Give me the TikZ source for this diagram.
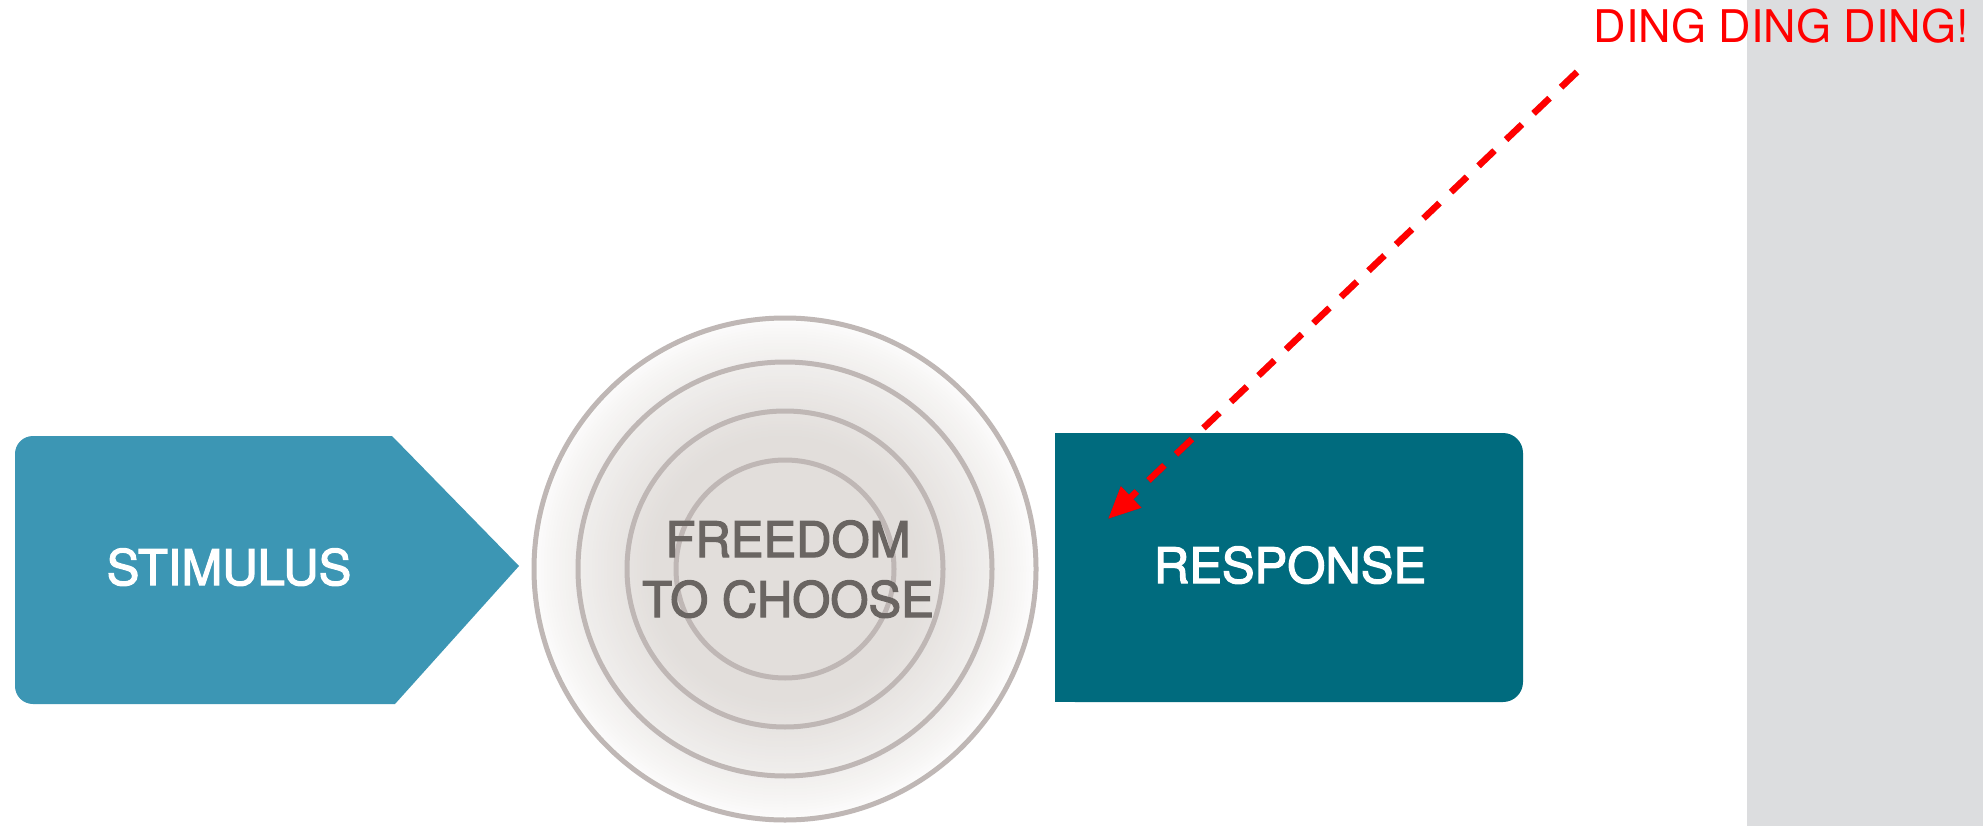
\documentclass[tikz,border=0pt]{standalone}
\usepackage{fontspec}
\setmainfont{TeX Gyre Heros}
\newfontfamily\labelfont{TeX Gyre Heros}[FakeBold=2.5]
\usetikzlibrary{arrows.meta}
\definecolor{stimcol}{HTML}{3C96B4}
\definecolor{respcol}{HTML}{006B7E}
\definecolor{panelcol}{HTML}{DCDDDF}
\definecolor{ringcol}{HTML}{BFB7B5}
\definecolor{ringfill}{HTML}{E2DEDB}
\definecolor{freecol}{HTML}{6A6562}
\tikzset{
  ring/.style={draw=ringcol, line width=5pt},
  biglabel/.style={font=\labelfont\fontsize{49}{60}\selectfont, anchor=base, inner sep=0pt},
  dingarrow/.style={red, line width=6.5pt, dash pattern=on 22pt off 16pt, -{Triangle[length=32pt,width=28pt]}},
}
\begin{document}
\begin{tikzpicture}[x=1pt,y=-1pt]
\useasboundingbox (0,0) rectangle (1983,826);
\fill[white] (0,0) rectangle (1983,826);
% right grey panel
\fill[panelcol] (1747,0) rectangle (1983,826);
% stimulus shape
\fill[stimcol] (392,436) -- (33,436) .. controls (23,436) and (15,444) .. (15,454)
  -- (15,686) .. controls (15,696) and (23,704) .. (33,704) -- (395,704) -- (519,566) -- cycle;
\node[biglabel, text=white] (stim) at (229,585) {STIMULUS};
% circles: radial fade from white edge to light grey centre
\foreach \r in {253,250,...,1}{
  \pgfmathsetmacro\p{4+96*pow(max(0.001,min(1,(253-\r)/120)),0.75)}
  \fill[ringfill!\p!white] (785,569) circle[radius=\r];
}
\draw[ring] (785,569) circle[radius=251];
\draw[ring] (785,569) circle[radius=207];
\draw[ring] (785,569) circle[radius=158];
\draw[ring] (785,569) circle[radius=109];
\node[biglabel, text=freecol] (free1) at (788,557) {FREEDOM};
\node[biglabel, text=freecol] (free2) at (788,617) {TO CHOOSE};
% response box
\fill[respcol, rounded corners=20pt] (1055,433) rectangle (1523,702);
\fill[respcol] (1055,433) rectangle (1120,702);
\node[biglabel, text=white] (resp) at (1290,583) {RESPONSE};
% annotation
\node[anchor=base east, text=red, inner sep=0pt, font=\fontsize{45}{54}\selectfont] (ding) at (1969,43) {DING DING DING!};
\coordinate (as) at (1577,72);
\coordinate (at) at (1108,519);
\draw[dingarrow, black, opacity=0.22, shift={(2,4)}] (as) -- (at);
\draw[dingarrow] (as) -- (at);
\end{tikzpicture}
\end{document}
